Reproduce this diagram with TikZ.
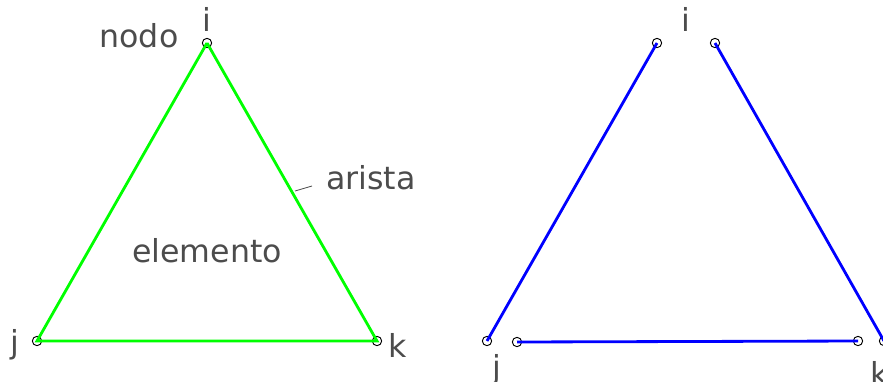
\documentclass[tikz,border=0pt]{standalone}
\usepackage{fontspec}
\setmainfont{DejaVu Sans}
\begin{document}
\begin{tikzpicture}[
    x=0.03cm, y=-0.03cm,
    nvertex/.style={circle, draw=black, fill=none, line width=0.8pt, inner sep=0pt, minimum size=0.28cm},
    etiqueta/.style={text=black!70, font=\fontsize{27}{27}\selectfont, inner sep=0pt},
    aristav/.style={line width=2.4pt, draw=green},
    aristaa/.style={line width=2.4pt, draw=blue}
  ]
    \useasboundingbox (0,0) rectangle (883,381);
    % Triangulo: elemento con nodos i, j, k
    \begin{scope}
      \node[nvertex] (i) at (207, 43) {};
      \node[nvertex] (j) at ( 37,341) {};
      \node[nvertex] (k) at (377,341) {};
      \draw[aristav] (i.center)--(j.center)--(k.center)--(i.center);
      \node[etiqueta] (li) at (207, 19) {i};
      \node[etiqueta] (lj) at ( 15,345) {j};
      \node[etiqueta] (lk) at (398,345) {k};
      \node[etiqueta] (lnodo) at (139, 36) {nodo};
      \node[etiqueta] (larista) at (371,178) {arista};
      \node[etiqueta] (lelem) at (207,251) {elemento};
      \coordinate (t1) at (295,191);
      \coordinate (t2) at (312,186);
      \draw[black!70, line width=0.7pt] (t1)--(t2);
    \end{scope}
    % Aristas separadas, cada una con sus dos nodos
    \begin{scope}
      \node[nvertex] (a1) at (657, 43) {};
      \node[nvertex] (a2) at (487,341) {};
      \node[nvertex] (b1) at (517,342) {};
      \node[nvertex] (b2) at (858,341) {};
      \node[nvertex] (c1) at (715, 43) {};
      \node[nvertex] (c2) at (884,341) {};
      \draw[aristaa] (a1.center)--(a2.center);
      \draw[aristaa] (b1.center)--(b2.center);
      \draw[aristaa] (c1.center)--(c2.center);
      \node[etiqueta] (ri) at (686, 19) {i};
      \node[etiqueta] (rj) at (497,370) {j};
      \node[etiqueta] (rk) at (880,373) {k};
    \end{scope}
  \end{tikzpicture}
\end{document}
